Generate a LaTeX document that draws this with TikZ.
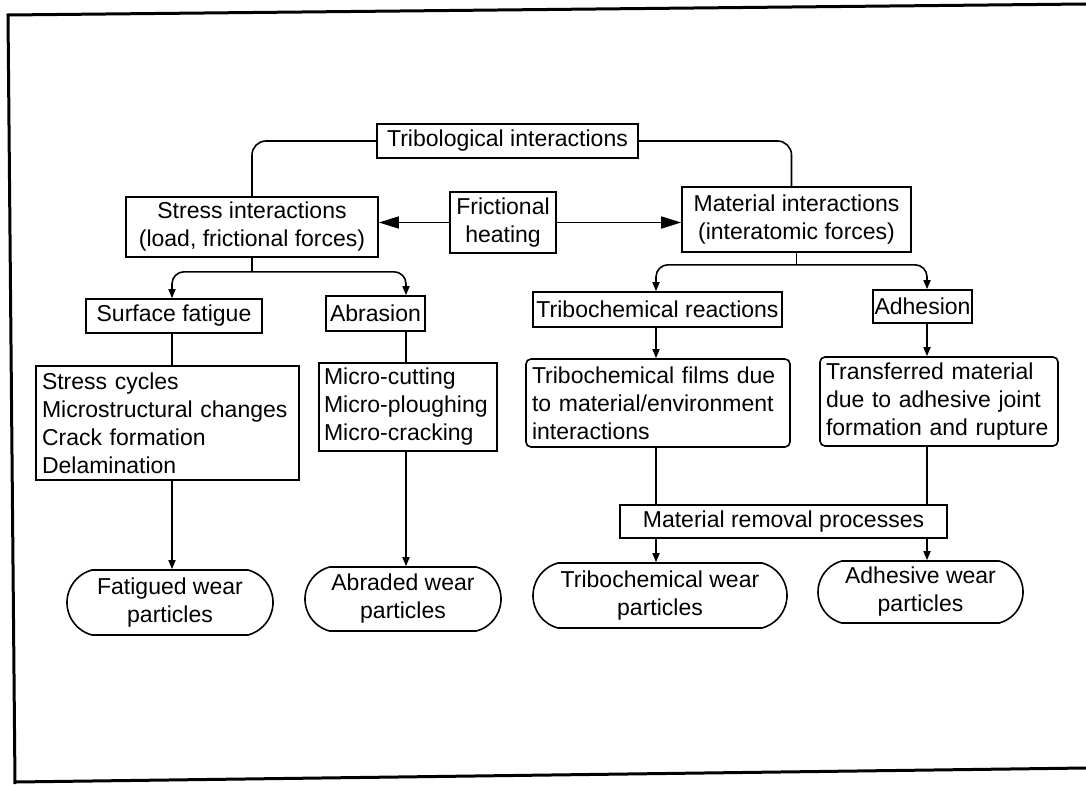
\documentclass[tikz,border=0pt]{standalone}
\usepackage{fontspec}
\setmainfont{Liberation Sans}
\usetikzlibrary{arrows.meta,shapes.misc,calc}
\hyphenpenalty=10000
\exhyphenpenalty=10000
\begin{document}
\begin{tikzpicture}[x=1pt,y=-1pt,
  txt/.style={font=\fontsize{23}{28}\selectfont},
  box/.style={txt,draw,line width=1.6pt,inner sep=0pt,align=center},
  lbox/.style={txt,draw,line width=1.6pt,inner xsep=6pt,inner ysep=0pt,align=left},
  rbox/.style={lbox,rounded corners=5pt},
  pill/.style={txt,draw,line width=1.6pt,rounded rectangle,rounded rectangle arc length=150,inner sep=0pt,align=center},
  conn/.style={line width=1.6pt},
  arr/.style={line width=1.6pt,-{Triangle[length=9pt,width=7pt]}},
  bigarr/.style={line width=1.6pt,-{Triangle[length=20pt,width=12pt]}},
  frame/.style={line width=3pt}
]
\useasboundingbox (0,0) rectangle (1086,784);
% frame
\draw[frame] (1086,4) -- (8,15) -- (15,784);
\draw[frame] (15,782) -- (1086,768);

% column coordinates
\coordinate (cA) at (172,0);
\coordinate (cB) at (406,0);
\coordinate (cC) at (656,0);
\coordinate (cD) at (927,0);

% nodes
\node[box,minimum width=261pt,minimum height=34pt] (tribo) at (507.5,141) {Tribological interactions};
\node[box,minimum width=252pt,minimum height=60pt] (stress) at (252,227) {Stress interactions\\(load, frictional forces)};
\node[box,minimum width=106pt,minimum height=61pt] (fric) at (503,222.5) {Frictional\\heating};
\node[box,minimum width=229pt,minimum height=65pt] (mat) at (796.5,219.5) {Material interactions\\(interatomic forces)};

\node[box,minimum width=176pt,minimum height=34pt] (surf) at (174,316) {Surface fatigue};
\node[box,minimum width=99pt,minimum height=35pt] (abr) at (375.5,313.5) {Abrasion};
\node[box,minimum width=249pt,minimum height=35pt] (trireac) at (657.5,309.5) {Tribochemical reactions};
\node[box,minimum width=99pt,minimum height=33pt] (adh) at (922.5,306.5) {Adhesion};

\node[lbox,text width=251pt,minimum height=114pt] (list) at (167.5,423) {Stress cycles\\Microstructural changes\\Crack formation\\Delamination};
\node[lbox,inner xsep=5pt,text width=168pt,minimum height=88pt] (micro) at (408,407) {Micro-cutting\\Micro-ploughing\\Micro-cracking};
\node[rbox,text width=252pt,minimum height=88pt] (films) at (658,403) {Tribochemical films due\\to material/environment\\interactions};
\node[rbox,text width=226pt,minimum height=89pt] (transf) at (939,401.5) {Transferred material\\due to adhesive joint\\formation and rupture};

\node[box,minimum width=327pt,minimum height=33pt] (removal) at (783.5,521.5) {Material removal processes};

\node[pill,minimum width=206pt,minimum height=65pt] (fatig) at (170,602.5) {Fatigued wear\\particles};
\node[pill,minimum width=196pt,minimum height=64pt] (abraded) at (403,599) {Abraded wear\\particles};
\node[pill,minimum width=254pt,minimum height=65pt] (tricwear) at (660,595.5) {Tribochemical wear\\particles};
\node[pill,minimum width=205pt,minimum height=62pt] (adhwear) at (920.5,592) {Adhesive wear\\particles};

% connectors from top
\draw[conn,rounded corners=14pt] (tribo.west) -| (stress.north);
\draw[conn,rounded corners=14pt] (tribo.east) -| ([xshift=-5pt]mat.north);

% frictional heating
\draw[bigarr] (fric.west) -- (fric.west -| stress.east);
\draw[bigarr] (fric.east) -- (fric.east -| mat.west);

% stress branches
\draw[conn] (stress.south) -- ++(0,14) coordinate (sj);
\draw[arr,rounded corners=12pt] (sj) -| (surf.north -| cA);
\draw[arr,rounded corners=12pt] (sj) -| (abr.north -| cB);

% material branches
\draw[conn] (mat.south) -- ++(0,12) coordinate (mj);
\draw[arr,rounded corners=12pt] (mj) -| (trireac.north -| cC);
\draw[arr,rounded corners=12pt] (mj) -| (adh.north -| cD);

% left columns
\draw[conn] (surf.south -| cA) -- (list.north -| cA);
\draw[arr] (list.south -| cA) -- (fatig.north -| cA);
\draw[conn] (abr.south -| cB) -- (micro.north -| cB);
\draw[arr] (micro.south -| cB) -- (abraded.north -| cB);

% right columns
\draw[arr] (trireac.south -| cC) -- (films.north -| cC);
\draw[arr] (adh.south -| cD) -- (transf.north -| cD);
\draw[conn] (films.south -| cC) -- (removal.north -| cC);
\draw[conn] (transf.south -| cD) -- (removal.north -| cD);
\draw[arr] (removal.south -| cC) -- (tricwear.north -| cC);
\draw[arr] (removal.south -| cD) -- (adhwear.north -| cD);
\end{tikzpicture}
\end{document}
